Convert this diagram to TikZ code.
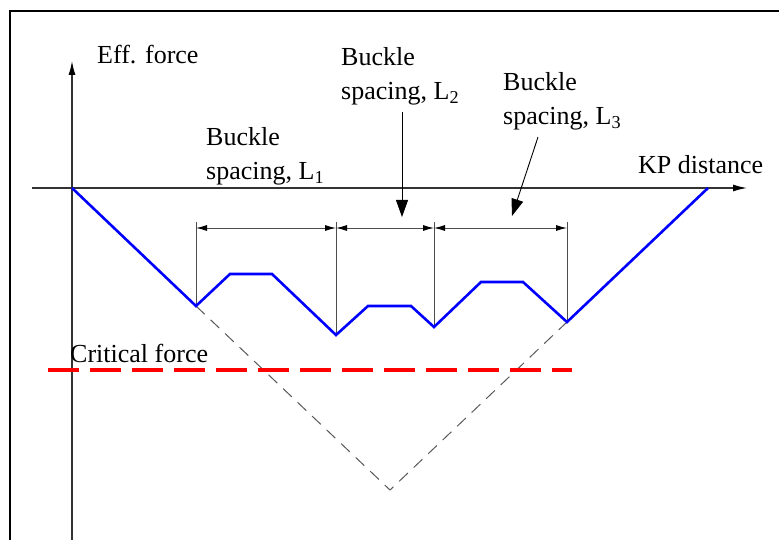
\documentclass[tikz,border=0pt]{standalone}
\usepackage{fontspec}
\setmainfont{Liberation Serif}
\usetikzlibrary{arrows.meta}
\begin{document}
\begin{tikzpicture}[x=1pt,y=-1pt,
  lbl/.style={inner sep=0pt,anchor=base west,align=left,font=\fontsize{26}{34}\selectfont},
  axis/.style={draw=black!80,line width=1.3pt},
  axtip/.style={-{Latex[length=14pt,width=7pt,color=black]}},
  dim/.style={draw=black!70,line width=0.9pt},
  dimtips/.style={{Latex[length=11pt,width=6pt,color=black]}-{Latex[length=11pt,width=6pt,color=black]}},
  blueline/.style={draw=blue,line width=2.6pt,line join=miter},
  greydash/.style={draw=black!65,line width=1pt,dash pattern=on 12pt off 8pt},
  reddash/.style={draw=red,line width=4.2pt,dash pattern=on 31pt off 11pt},
  ptr/.style={draw=black,line width=0.9pt,-{Triangle[length=17pt,width=12pt]}}
]
\useasboundingbox[fill=white] (0,0) rectangle (779,540);
% frame
\draw[line width=1.6pt,black] (10,540) -- (10,11) -- (779,11);
% points
\coordinate (O) at (72,188);
\coordinate (yb) at (72,540);
\coordinate (yt) at (72,61);
\coordinate (xl) at (32,188);
\coordinate (xr) at (747,188);
\coordinate (p1) at (196,306);
\coordinate (p2) at (230,274);
\coordinate (p3) at (272,274);
\coordinate (p4) at (336,335);
\coordinate (p5) at (368,306);
\coordinate (p6) at (411,306);
\coordinate (p7) at (434,327);
\coordinate (p8) at (481,282);
\coordinate (p9) at (523,282);
\coordinate (p10) at (567,322);
\coordinate (E) at (708,188);
\coordinate (V) at (390,490);
% axes
\draw[axis,axtip] (yb) -- (yt);
\draw[axis,axtip] (xl) -- (xr);
% dashed V
\draw[greydash] (p1) -- (V) -- (p10);
% extension lines
\coordinate (t1) at (196,222);
\coordinate (t2) at (336,222);
\coordinate (t3) at (434,222);
\coordinate (t4) at (567,222);
\draw[dim] (t1) -- (p1);
\draw[dim] (t2) -- (p4);
\draw[dim] (t3) -- (p7);
\draw[dim] (t4) -- (p10);
% dimension lines
\coordinate (d1) at (196,228);
\coordinate (d2) at (336,228);
\coordinate (d3) at (434,228);
\coordinate (d4) at (567,228);
\draw[dim,dimtips] (d1) -- (d2);
\draw[dim,dimtips] (d2) -- (d3);
\draw[dim,dimtips] (d3) -- (d4);
% blue curve
\draw[blueline] (O) -- (p1) -- (p2) -- (p3) -- (p4) -- (p5) -- (p6) -- (p7) -- (p8) -- (p9) -- (p10) -- (E);
% critical force
\coordinate (c1) at (48,370);
\coordinate (c2) at (572,370);
\draw[reddash] (c1) -- (c2);
% labels
\node[lbl] (eff) at (97,64) {Eff. force};
\node[lbl] (kp) at (638,174) {KP distance};
\node[lbl] (crit) at (70,362) {Critical force};
\node[lbl] (L1) at (206,180) {Buckle\\spacing, L\textsubscript{1}};
\node[lbl] (L2) at (341,100) {Buckle\\spacing, L\textsubscript{2}};
\node[lbl] (L3) at (503,125) {Buckle\\spacing, L\textsubscript{3}};
% pointers
\coordinate (a2s) at (402,112);
\coordinate (a2e) at (402,217);
\coordinate (a3s) at (538,137);
\coordinate (a3e) at (512,216);
\draw[ptr] (a2s) -- (a2e);
\draw[ptr] (a3s) -- (a3e);
\end{tikzpicture}
\end{document}
